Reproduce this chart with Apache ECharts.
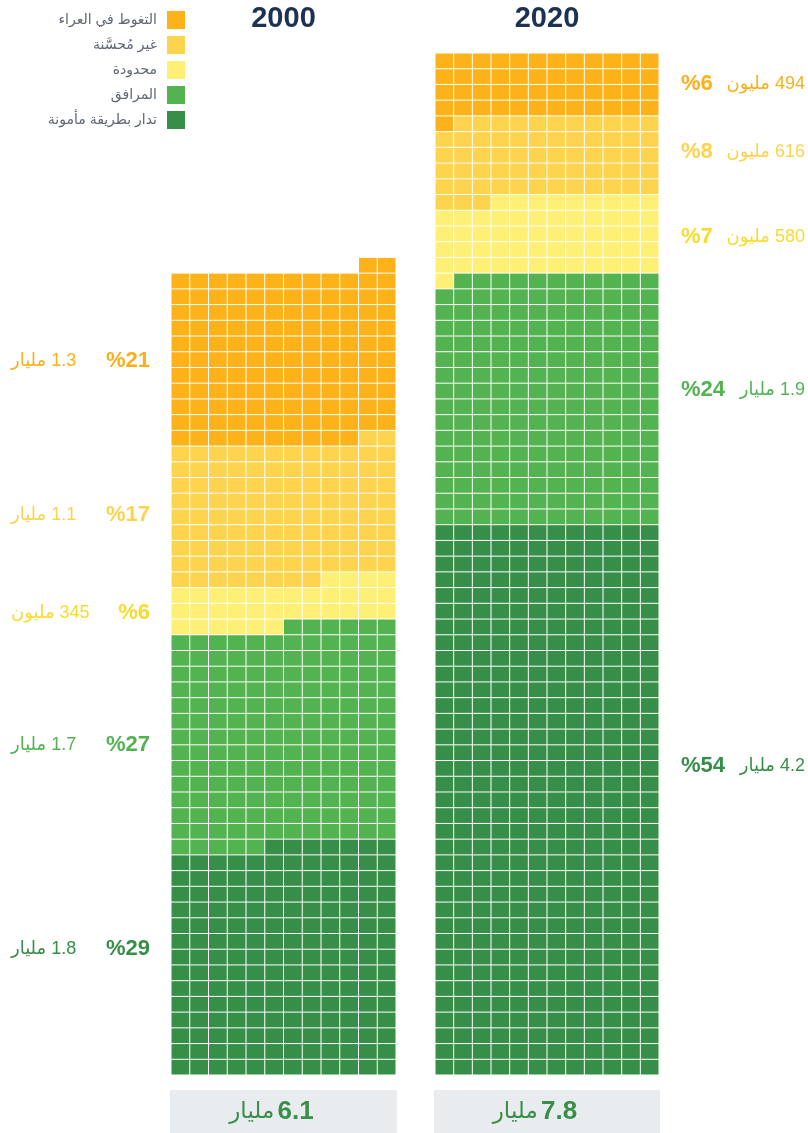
<!DOCTYPE html>
<html>
<head>
<meta charset="utf-8">
<script src="https://cdn.jsdelivr.net/npm/echarts@6/dist/echarts.min.js"></script>
<style>
  html, body { margin: 0; padding: 0; background: #ffffff; }
  #chart { width: 808px; height: 1133px; }
</style>
</head>
<body>
<div id="chart" dir="rtl"></div>
<script>
// Sanitation service levels, world population (one cell = 10 million people)
const categories = ['التغوط في العراء', 'غير مُحسَّنة', 'محدودة', 'المرافق', 'تدار بطريقة مأمونة'];
const years = ['2000', '2020'];
const cells2000 = [132, 106, 34, 167, 175];
const cells2020 = [49, 62, 58, 191, 420];
const pct2000 = ['%21', '%17', '%6', '%27', '%29'];
const pct2020 = ['%6', '%8', '%7', '%24', '%54'];
const amount2000 = ['1.3 مليار', '1.1 مليار', '345 مليون', '1.7 مليار', '1.8 مليار'];
const amount2020 = ['494 مليون', '616 مليون', '580 مليون', '1.9 مليار', '4.2 مليار'];
const totals = ['6.1', '7.8'];
const totalUnit = 'مليار';

// ---- styling & layout ----
const FONT = "'Liberation Sans', 'DejaVu Sans', sans-serif";
const cellColors = ['#fdb219', '#fed44f', '#fef074', '#52b350', '#378e48'];
const textColors = ['#fbb01a', '#fdd24c', '#f8db2c', '#52b350', '#378e48'];
const COLS = 12, ROWS = 65;
const gridTop = 53, gridHeight = 1022;
const columns = [{ left: 171, width: 225 }, { left: 435, width: 224 }];
const leftLabelY = [361, 515, 613, 745, 949];
const rightLabelY = [84, 152, 237, 390, 766];

// Fill cells bottom-up, each row from right to left, starting with the last category
function layoutCells(counts) {
  const out = categories.map(() => []);
  let i = 0;
  for (let k = counts.length - 1; k >= 0; k--) {
    for (let n = 0; n < counts[k]; n++, i++) {
      out[k].push([COLS - 1 - (i % COLS), Math.floor(i / COLS)]);
    }
  }
  return out;
}
const cellsByYear = [layoutCells(cells2000), layoutCells(cells2020)];

function renderCell(params, api) {
  const p = api.coord([api.value(0), api.value(1) + 1]);
  const s = api.size([1, 1]);
  return {
    type: 'rect',
    shape: { x: p[0] + 0.5, y: p[1] + 0.5, width: s[0] - 1, height: s[1] - 1 },
    style: { fill: api.visual('color') }
  };
}

const series = [];
cellsByYear.forEach((byCat, y) => {
  byCat.forEach((data, k) => {
    series.push({
      type: 'custom',
      name: categories[k],
      xAxisIndex: y,
      yAxisIndex: y,
      data: data,
      encode: { x: 0, y: 1 },
      itemStyle: { color: cellColors[k] },
      renderItem: renderCell,
      silent: true
    });
  });
});

function txt(x, y, text, color, size, weight, align) {
  return {
    type: 'text', x: x, y: y, silent: true,
    style: {
      text: text, fill: color,
      font: weight + ' ' + size + 'px ' + FONT,
      textAlign: align, textVerticalAlign: 'middle',
      align: align, verticalAlign: 'middle'
    }
  };
}

const graphic = [];
// year titles
years.forEach((yr, y) => {
  const c = columns[y];
  graphic.push(txt(c.left + c.width / 2, 19, yr, '#1d3252', 29, 'bold', 'center'));
});
// 2000 labels (left side)
categories.forEach((_, k) => {
  graphic.push(txt(150, leftLabelY[k], pct2000[k], textColors[k], 22, 'bold', 'right'));
  graphic.push(txt(11, leftLabelY[k], amount2000[k], textColors[k], 18, 'normal', 'left'));
});
// 2020 labels (right side)
categories.forEach((_, k) => {
  graphic.push(txt(681, rightLabelY[k], pct2020[k], textColors[k], 22, 'bold', 'left'));
  graphic.push(txt(805, rightLabelY[k], amount2020[k], textColors[k], 18, 'normal', 'right'));
});
// totals under each column
totals.forEach((t, y) => {
  const c = columns[y];
  graphic.push({
    type: 'rect', silent: true,
    shape: { x: c.left - 1, y: 1090, width: c.width + 2, height: 43 },
    style: { fill: '#e9ecef' }
  });
  graphic.push({
    type: 'text', x: c.left + c.width / 2 - 12, y: 1112, silent: true,
    style: {
      text: '{u|' + totalUnit + '} {n|' + t + '}',
      align: 'center', verticalAlign: 'middle',
      textAlign: 'center', textVerticalAlign: 'middle',
      rich: {
        u: { fontFamily: FONT, fontSize: 23, fontWeight: 'normal', fill: '#3a8f48', color: '#3a8f48' },
        n: { fontFamily: FONT, fontSize: 26, fontWeight: 'bold', fill: '#3a8f48', color: '#3a8f48' }
      }
    }
  });
});

const chart = echarts.init(document.getElementById('chart'), null, { renderer: 'canvas' });
chart.setOption({
  animation: false,
  backgroundColor: '#ffffff',
  legend: {
    data: categories,
    orient: 'vertical',
    align: 'right',
    left: 'auto',
    right: 808 - 185,
    top: 11,
    padding: 0,
    itemWidth: 18,
    itemHeight: 18,
    itemGap: 7,
    icon: 'rect',
    selectedMode: false,
    textStyle: { color: '#5e6673', fontSize: 14, fontFamily: FONT, padding: [0, 5, 0, 0] }
  },
  grid: columns.map(c => ({ left: c.left, width: c.width, top: gridTop, height: gridHeight })),
  xAxis: columns.map((c, i) => ({ gridIndex: i, type: 'value', min: 0, max: COLS, show: false })),
  yAxis: columns.map((c, i) => ({ gridIndex: i, type: 'value', min: 0, max: ROWS, show: false })),
  series: series,
  graphic: graphic
});
</script>
</body>
</html>
